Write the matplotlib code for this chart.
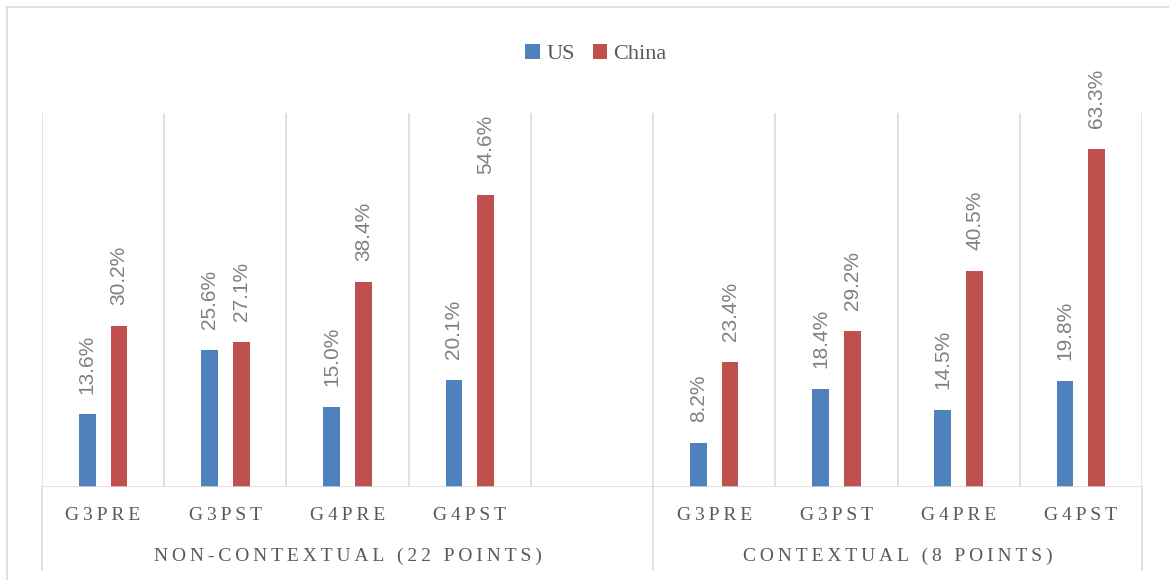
import matplotlib
matplotlib.use("Agg")
import matplotlib.pyplot as plt
from matplotlib.lines import Line2D

# Data
categories = ["G3PRE", "G3PST", "G4PRE", "G4PST"]
groups = ["NON-CONTEXTUAL (22 POINTS)", "CONTEXTUAL (8 POINTS)"]
us_noncontext = [13.6, 25.6, 15.0, 20.1]
china_noncontext = [30.2, 27.1, 38.4, 54.6]
us_context = [8.2, 18.4, 14.5, 19.8]
china_context = [23.4, 29.2, 40.5, 63.3]

US_COLOR = "#4F81BD"
CN_COLOR = "#C0504D"
GRID = "#D9D9D9"
TXT = "#595959"
SERIF = ["Liberation Serif", "DejaVu Serif"]
SANS = ["Liberation Sans", "DejaVu Sans"]


def spaced(s):
    # imitate letter spacing with thin spaces
    return "\u2009 \u2009".join("\u2009".join(w) for w in s.split(" "))


# slots: 4 non-contextual, 1 empty, 4 contextual
x_nc = [0, 1, 2, 3]
x_c = [5, 6, 7, 8]
xs = x_nc + x_c
us_vals = us_noncontext + us_context
cn_vals = china_noncontext + china_context

fig = plt.figure(figsize=(11.69, 5.8), dpi=100)
ax = fig.add_axes([42 / 1169, 1 - 487 / 580, 1100 / 1169, 374 / 580])

w = 0.137
off = 0.13
us_bars = ax.bar([x - off for x in xs], us_vals, width=w, color=US_COLOR, label="US", zorder=3)
cn_bars = ax.bar([x + off for x in xs], cn_vals, width=w, color=CN_COLOR, label="China", zorder=3)

for bars, vals in ((us_bars, us_vals), (cn_bars, cn_vals)):
    for b, v in zip(bars, vals):
        ax.annotate(f"{v:.1f}%", (b.get_x() + b.get_width() / 2, b.get_height()),
                    xytext=(0, 15), textcoords="offset points", rotation=90,
                    ha="center", va="bottom", fontsize=15, color="#808080", family=SANS)

ax.set_xlim(-0.5, 8.5)
ax.set_ylim(0, 70)
for s in ax.spines.values():
    s.set_visible(False)
ax.set_yticks([])
ax.set_xticks([])

# vertical gridlines at slot boundaries
for b in range(10):
    ax.axvline(b - 0.5, color=GRID, lw=1.1, zorder=1)
ax.axhline(0, color=GRID, lw=1.1, zorder=4)

# group separators below axis
for b in (-0.5, 4.5, 8.5):
    ax.plot([b, b], [0, -0.222], transform=ax.get_xaxis_transform(),
            color=GRID, lw=1.1, clip_on=False)

trans = ax.get_xaxis_transform()
for x, c in zip(xs, categories + categories):
    ax.text(x, -0.075, spaced(c), transform=trans, ha="center", va="center",
            fontsize=14, color=TXT, family=SERIF)
ax.text(2, -0.185, spaced(groups[0]), transform=trans, ha="center", va="center",
        fontsize=14, color=TXT, family=SERIF)
ax.text(6.5, -0.185, spaced(groups[1]), transform=trans, ha="center", va="center",
        fontsize=14, color=TXT, family=SERIF)

leg = fig.legend(handles=[us_bars, cn_bars], labels=["US", "China"], loc="center",
                 bbox_to_anchor=(596 / 1169, 1 - 54 / 580), ncol=2, frameon=False,
                 prop={"family": SERIF, "size": 16}, handlelength=0.65, handleheight=0.65,
                 handletextpad=0.3, columnspacing=0.8)
for t in leg.get_texts():
    t.set_color(TXT)

# chart area border (left and top visible)
fig.add_artist(Line2D([7 / 1169, 7 / 1169], [0, 1 - 7 / 580], color=GRID, lw=1.2))
fig.add_artist(Line2D([7 / 1169, 1], [1 - 7 / 580, 1 - 7 / 580], color=GRID, lw=1.2))

fig.savefig("out.png", dpi=100)
